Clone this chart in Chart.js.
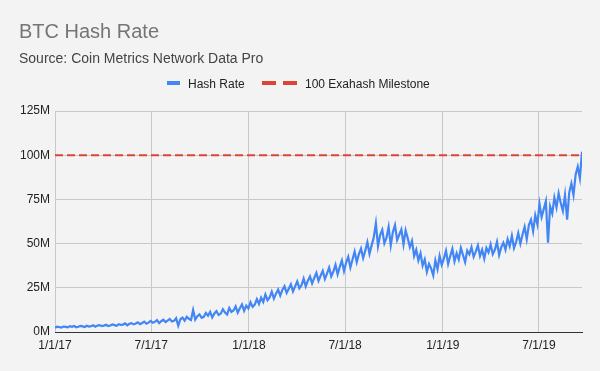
<!DOCTYPE html>
<html>
<head>
<meta charset="utf-8">
<script src="https://cdn.jsdelivr.net/npm/chart.js@4"></script>
<style>
  body { margin: 0; background: #f3f3f3; font-family: "Liberation Sans", Arial, sans-serif; }
  #wrap { position: relative; width: 600px; height: 371px; }
  #chart { position: absolute; left: 0; top: 0; }
  .title { position: absolute; left: 19px; top: 21px; font-size: 20px; line-height: 20px; color: #757575; white-space: nowrap; }
  .subtitle { position: absolute; left: 19px; top: 51px; font-size: 14px; line-height: 14px; color: #444; white-space: nowrap; }
  .leg-text { position: absolute; top: 78px; font-size: 12px; line-height: 12px; color: #222; white-space: nowrap; }
  .leg-mark { position: absolute; top: 81px; height: 4px; }
</style>
</head>
<body>
<div id="wrap">
  <canvas id="chart" width="600" height="371"></canvas>
  <div class="title">BTC Hash Rate</div>
  <div class="subtitle">Source: Coin Metrics Network Data Pro</div>
  <div class="leg-mark" style="left:167px;width:13px;background:#4285f4"></div>
  <div class="leg-text" style="left:188px">Hash Rate</div>
  <div class="leg-mark" style="left:262px;width:14px;background:#db4437"></div>
  <div class="leg-mark" style="left:283px;width:14px;background:#db4437"></div>
  <div class="leg-text" style="left:305px">100 Exahash Milestone</div>
</div>
<script>
// hash rate in millions (TH/s), one reading every 4 days from 1/1/17
const STEP_DAYS = 4;
const hashRate = [
  // 2017
  2.4, 3.0, 2.8, 2.5, 3.1, 2.9, 2.6, 3.3,
  2.9, 3.4, 2.7, 3.0, 3.5, 3.2, 2.8,
  3.5, 3.1, 3.3, 3.8, 3.0, 3.6, 3.9, 3.3,
  3.6, 4.1, 3.4, 3.7, 4.3, 3.9, 3.5,
  4.4, 4.0, 4.2, 4.9, 3.8, 4.6, 5.0, 4.3,
  4.8, 5.5, 4.4, 5.1, 5.9, 4.7, 5.3,
  6.3, 5.2, 5.7, 6.7, 5.0, 6.1, 6.9, 5.6,
  6.5, 7.4, 5.9, 6.3, 7.8, 3.5, 7.2, 8.1,
  6.4, 8.6, 7.5, 6.8, 12.5, 7.0, 8.9,
  9.9, 8.0, 8.6, 10.8, 9.2, 11.4, 8.3, 10.5,
  11.8, 9.6, 10.4, 12.9, 11.0, 9.9, 13.6, 11.4,
  12.2, 14.5, 11.0, 13.4, 15.6, 12.0, 14.9, 13.3,
  // 2018
  16.8, 14.2, 15.5, 18.6, 15.9, 19.4, 17.0,
  21.2, 18.0, 19.6, 22.8, 18.9, 21.7, 24.0,
  20.6, 23.8, 25.9, 22.1, 24.5, 27.0, 22.9, 25.8,
  28.6, 24.7, 26.4, 30.2, 25.8, 29.0, 31.4,
  27.5, 30.6, 33.4, 28.9, 31.8, 34.6, 30.0, 33.0,
  36.4, 31.5, 34.2, 38.0, 32.6, 36.8, 40.4, 34.5,
  39.2, 42.5, 36.5, 41.0, 45.5, 39.5, 44.0,
  47.2, 41.8, 46.0, 50.8, 44.2, 49.0, 53.5, 61.5,
  48.5, 54.8, 57.8, 50.2, 53.4, 59.5, 49.0, 56.5,
  60.5, 52.0, 55.0, 58.0, 49.5, 57.5, 53.0,
  48.0, 51.5, 43.0, 46.5, 40.5, 44.5, 37.5, 41.0,
  34.0, 38.5, 36.0, 32.0, 40.5, 35.5, 43.0, 38.0,
  // 2019
  41.5, 46.0, 38.5, 43.0, 47.0, 40.0, 44.5,
  41.0, 47.5, 43.5, 39.5, 46.0, 44.0, 48.0,
  42.5, 45.5, 49.0, 43.0, 46.5, 41.5, 47.5, 45.0,
  49.5, 44.0, 46.5, 51.0, 43.5, 48.0, 50.5,
  46.5, 52.5, 48.5, 54.5, 47.5, 51.0, 56.0, 50.0,
  55.0, 59.5, 52.5, 60.5, 63.5, 57.0, 66.0, 61.0,
  72.5, 65.0, 69.5, 74.0, 50.5, 71.0, 67.0,
  76.0, 70.5, 78.5, 73.0, 68.5, 77.5, 63.5, 79.0,
  84.0, 77.5, 89.0, 93.5, 87.0, 102.0
];

const milestone = 100;

// x axis: days since 1/1/17
const tickDays = [0, 181, 365, 546, 730, 911];
const tickLabels = ['1/1/17', '7/1/17', '1/1/18', '7/1/18', '1/1/19', '7/1/19'];
const yTicks = [0, 25, 50, 75, 100, 125];

const lastDay = (hashRate.length - 1) * STEP_DAYS;
const hashPoints = hashRate.map((v, i) => ({ x: i * STEP_DAYS, y: v }));

Chart.defaults.font.family = "'Liberation Sans', Arial, sans-serif";
Chart.defaults.font.size = 12;
Chart.defaults.color = '#222';

new Chart(document.getElementById('chart'), {
  type: 'line',
  data: {
    datasets: [
      {
        label: 'Hash Rate',
        data: hashPoints,
        borderColor: '#4285f4',
        borderWidth: 2.2,
        pointRadius: 0,
        tension: 0
      },
      {
        label: '100 Exahash Milestone',
        data: [{ x: 0, y: milestone }, { x: lastDay, y: milestone }],
        borderColor: '#db4437',
        borderWidth: 2,
        borderDash: [8, 4],
        pointRadius: 0
      }
    ]
  },
  options: {
    responsive: false,
    animation: false,
    layout: { padding: { left: 0, right: 18, top: 111, bottom: 0 } },
    plugins: { legend: { display: false }, tooltip: { enabled: false } },
    scales: {
      x: {
        type: 'linear',
        min: 0,
        max: lastDay,
        afterBuildTicks: (axis) => { axis.ticks = tickDays.map(v => ({ value: v })); },
        afterFit: (s) => { s.height = 39; },
        ticks: {
          padding: 6,
          maxRotation: 0,
          autoSkip: false,
          callback: (v) => tickLabels[tickDays.indexOf(v)]
        },
        grid: { color: '#c8c8c8', drawTicks: false },
        border: { color: '#333', width: 1 }
      },
      y: {
        min: 0,
        max: 125,
        afterBuildTicks: (axis) => { axis.ticks = yTicks.map(v => ({ value: v })); },
        afterFit: (s) => { s.width = 55; },
        ticks: { padding: 5, callback: (v) => v + 'M' },
        grid: { color: '#c8c8c8', drawTicks: false },
        border: { display: false }
      }
    }
  }
});
</script>
</body>
</html>
